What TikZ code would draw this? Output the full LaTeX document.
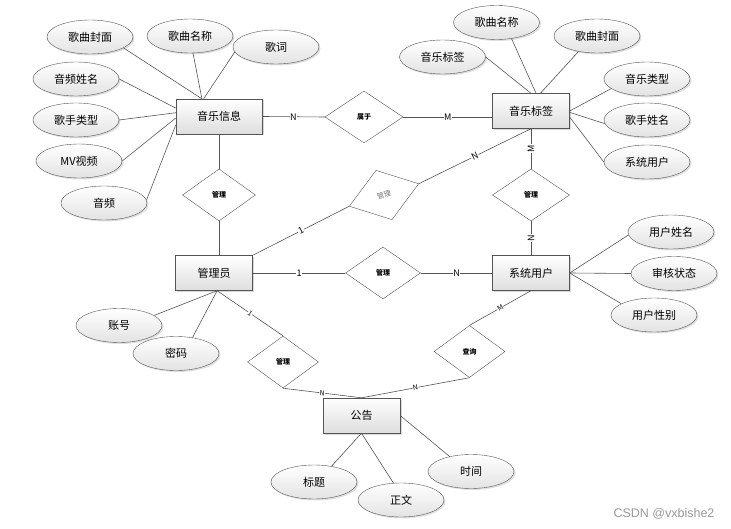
\documentclass[tikz,border=0pt]{standalone}
\usepackage{fontspec}
\setmainfont{Noto Sans CJK SC}
\newfontfamily\wmfont{Liberation Sans}
\usetikzlibrary{shapes.geometric}
\usetikzlibrary{shadows}

\definecolor{linegray}{HTML}{555555}

\tikzset{
        entity/.style={draw=linegray, rectangle, minimum width=77pt, minimum height=35pt, inner sep=0pt,
                top color=white, bottom color=black!13,
                drop shadow={shadow xshift=1.5pt, shadow yshift=-1.5pt, opacity=0.3},
                font=\fontsize{11}{13}\selectfont},
        attr/.style={draw=linegray, ellipse, minimum width=86pt, minimum height=34pt, inner sep=0pt,
                top color=white, bottom color=black!11,
                drop shadow={shadow xshift=1.5pt, shadow yshift=-1.5pt, opacity=0.25},
                font=\fontsize{11}{13}\selectfont},
        rel/.style={draw=linegray, diamond, minimum width=73pt, minimum height=52pt, inner sep=0pt,
                fill=white, font=\fontsize{7}{8}\selectfont\bfseries},
        conn/.style={draw=linegray, line width=0.6pt},
        card/.style={midway, fill=white, inner sep=0.6pt, font=\fontsize{9}{10}\selectfont},
        cards/.style={midway, fill=white, inner sep=0.4pt, font=\fontsize{7}{8}\selectfont}
}

\begin{document}
\begin{tikzpicture}[x=1pt, y=-1pt]
        \useasboundingbox (0,0) rectangle (731,529);

        \node[entity, minimum width=86pt] (info1) at (219,116.5) {音乐信息};
        \node[entity] (tag1) at (531,111) {音乐标签};
        \node[entity] (adm1) at (214,273) {管理员};
        \node[entity] (usr1) at (531,273) {系统用户};
        \node[entity] (ann1) at (361.5,415.5) {公告};

        \node[rel, minimum width=78pt] (r1) at (364,117) {属于};
        \node[rel] (r2) at (219,195) {管理};
        \node[rel, rotate=18, text=black!55, font=\fontsize{7}{8}\selectfont] (r3) at (384,195) {管理};
        \node[rel, minimum width=77pt] (r4) at (531,195) {管理};
        \node[rel, minimum width=75pt] (r5) at (383,273) {管理};
        \node[rel, minimum width=71pt] (r6) at (283,362) {管理};
        \node[rel, minimum width=71pt] (r7) at (469.5,351.5) {查询};

        \node[attr] (a1) at (90,37) {歌曲封面};
        \node[attr] (a2) at (190,36) {歌曲名称};
        \node[attr] (a3) at (276,47) {歌词};
        \node[attr] (a4) at (76,79) {音频姓名};
        \node[attr] (a5) at (76,120) {歌手类型};
        \node[attr] (a6) at (79,161) {MV视频};
        \node[attr] (a7) at (104,203) {音频};

        \node[attr] (b1) at (442.5,57) {音乐标签};
        \node[attr] (b2) at (496.5,22.5) {歌曲名称};
        \node[attr] (b3) at (597,36) {歌曲封面};
        \node[attr] (b4) at (647,79) {音乐类型};
        \node[attr] (b5) at (647,120) {歌手姓名};
        \node[attr] (b6) at (647,162) {系统用户};

        \node[attr] (c1) at (119,325.5) {账号};
        \node[attr] (c2) at (176,353.5) {密码};

        \node[attr] (d1) at (671,232) {用户姓名};
        \node[attr] (d2) at (674,273.5) {审核状态};
        \node[attr] (d3) at (654,315) {用户性别};

        \node[attr] (f1) at (314,482) {标题};
        \node[attr] (f2) at (401,500) {正文};
        \node[attr] (f3) at (471,471.5) {时间};

        \node[font=\wmfont\fontsize{12.5}{14}\selectfont, text=black!40] (wm) at (664,514) {CSDN @vxbishe2};

        \path[conn] (a1.-18) edge (info1.134)
                (a2.-80) edge (info1.134)
                (a3.187) edge (info1.131)
                (a4.east) edge (info1.169)
                (a5.east) edge (info1.175)
                (a6.east) edge (info1.182)
                (a7.4) edge (info1.191);

        \path[conn] (b1.east) edge (tag1.north)
                (b2.-47) edge (tag1.74)
                (b3.-140) edge (tag1.62)
                (b4.195) edge (tag1.east)
                (b5.185) edge (tag1.-2)
                (b6.west) edge (tag1.-9);

        \path[conn] (c1.16) edge (adm1.-80)
                (c2.44) edge (adm1.-80);

        \path[conn] (d1.184) edge (usr1.east)
                (d2.west) edge (usr1.east)
                (d3.161) edge (usr1.east);

        \path[conn] (f1.42) edge (ann1.south)
                (f2.114) edge (ann1.south)
                (f3.145) edge (ann1.east);

        \path[conn] (info1.east) edge node[card] {N} (r1.west)
                (r1.east) edge node[card] {M} (r1.east -| tag1.west)
                (info1.south) edge (r2.north)
                (r2.south) edge (r2.south |- adm1.north)
                (tag1.south) edge node[card, sloped] {N} (r3.east)
                (r3.west) edge node[card, sloped] {1} (adm1.north east)
                (tag1.south) edge node[card, rotate=90] {M} (r4.north)
                (r4.south) edge node[card, rotate=90] {N} (usr1.north)
                (adm1.east) edge node[card] {1} (r5.west)
                (r5.east) edge node[card] {N} (usr1.west)
                (adm1.-80) edge node[cards, sloped] {1} (r6.north)
                (r6.south) edge node[cards, sloped] {N} (ann1.north)
                (ann1.north) edge node[cards, sloped] {N} (r7.south)
                (r7.north) edge node[cards, sloped] {M} (usr1.south);

\end{tikzpicture}
\end{document}
